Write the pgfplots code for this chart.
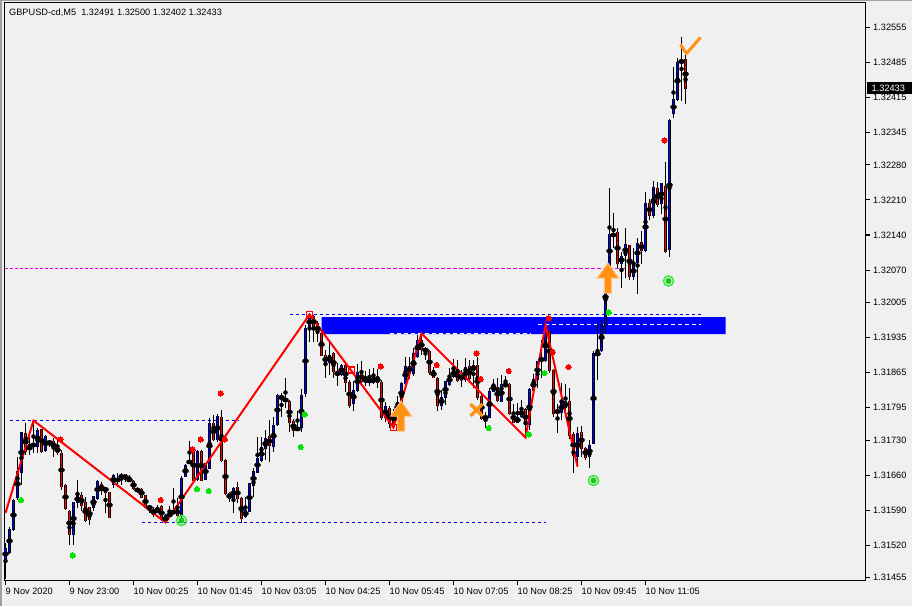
\documentclass[border=0pt]{standalone}
\usepackage{fontspec}
\setmainfont{Liberation Sans}
\usepackage{pgfplots}
\usepackage{pgfplotstable}
\pgfplotsset{compat=1.18}
\definecolor{bg}{RGB}{240,240,240}
\definecolor{bull}{RGB}{0,0,255}
\definecolor{bear}{RGB}{255,0,0}
\definecolor{orng}{RGB}{255,145,20}
\definecolor{orngl}{RGB}{255,190,110}
\definecolor{fgreen}{RGB}{0,230,0}
\definecolor{ringc}{RGB}{60,235,60}
\definecolor{discc}{RGB}{25,200,25}
\definecolor{winb}{RGB}{160,160,160}
\definecolor{magd}{RGB}{230,0,230}
\newcommand{\mtfont}{\fontsize{9.2}{10}\selectfont}

\pgfdeclareplotmark{uparr}{%
 \pgfpathmoveto{\pgfpoint{-3.5pt}{-15pt}}%
 \pgfpathlineto{\pgfpoint{3.5pt}{-15pt}}%
 \pgfpathlineto{\pgfpoint{3.5pt}{0pt}}%
 \pgfpathlineto{\pgfpoint{10.5pt}{0pt}}%
 \pgfpathlineto{\pgfpoint{0pt}{15pt}}%
 \pgfpathlineto{\pgfpoint{-10.5pt}{0pt}}%
 \pgfpathlineto{\pgfpoint{-3.5pt}{0pt}}%
 \pgfpathclose
 \pgfusepathqfillstroke}
\pgfdeclareplotmark{oX}{%
 \pgfpathmoveto{\pgfpoint{-6pt}{-6pt}}\pgfpathlineto{\pgfpoint{6pt}{6pt}}%
 \pgfpathmoveto{\pgfpoint{-6pt}{6pt}}\pgfpathlineto{\pgfpoint{6pt}{-6pt}}%
 \pgfusepathqstroke}
\pgfdeclareplotmark{ocheck}{%
 \pgfpathmoveto{\pgfpoint{-9pt}{4pt}}\pgfpathlineto{\pgfpoint{-3pt}{-5pt}}\pgfpathlineto{\pgfpoint{11pt}{11pt}}%
 \pgfusepathqstroke}
\pgfdeclareplotmark{gring}{%
 \pgfsetlinewidth{1.6pt}\pgfsetstrokecolor{ringc}%
 \pgfpathcircle{\pgfpointorigin}{5pt}\pgfusepathqstroke
 \pgfsetfillcolor{discc}%
 \pgfpathcircle{\pgfpointorigin}{3pt}\pgfusepathqfill}

\pgfplotstableread{
i o h l c
0 1.31491 1.31525 1.31451 1.31515
1 1.31505 1.31557 1.31503 1.31551
2 1.31551 1.31613 1.31549 1.31610
3 1.31617 1.31697 1.31610 1.31669
4 1.31665 1.31747 1.31641 1.31745
5 1.31745 1.31766 1.31701 1.31709
6 1.31719 1.31737 1.31701 1.31711
7 1.31717 1.31769 1.31705 1.31723
8 1.31719 1.31755 1.31705 1.31751
9 1.31753 1.31753 1.31705 1.31707
10 1.31709 1.31741 1.31705 1.31739
11 1.31723 1.31731 1.31717 1.31727
12 1.31727 1.31735 1.31697 1.31713
13 1.31715 1.31733 1.31701 1.31705
14 1.31703 1.31711 1.31631 1.31637
15 1.31641 1.31643 1.31592 1.31594
16 1.31588 1.31590 1.31521 1.31541
17 1.31541 1.31606 1.31521 1.31606
18 1.31606 1.31651 1.31596 1.31619
19 1.31619 1.31627 1.31590 1.31600
20 1.31606 1.31617 1.31567 1.31571
21 1.31596 1.31598 1.31561 1.31571
22 1.31596 1.31617 1.31588 1.31617
23 1.31615 1.31651 1.31610 1.31649
24 1.31641 1.31647 1.31621 1.31629
25 1.31637 1.31637 1.31586 1.31627
26 1.31625 1.31625 1.31574 1.31576
27 1.31643 1.31663 1.31635 1.31661
28 1.31647 1.31665 1.31637 1.31653
29 1.31657 1.31665 1.31641 1.31659
30 1.31661 1.31663 1.31647 1.31651
31 1.31653 1.31661 1.31645 1.31647
32 1.31649 1.31651 1.31631 1.31635
33 1.31631 1.31637 1.31625 1.31629
34 1.31633 1.31635 1.31617 1.31617
35 1.31619 1.31621 1.31594 1.31596
36 1.31592 1.31600 1.31586 1.31598
37 1.31592 1.31598 1.31576 1.31582
38 1.31586 1.31600 1.31584 1.31596
39 1.31598 1.31600 1.31569 1.31571
40 1.31565 1.31582 1.31565 1.31580
41 1.31582 1.31600 1.31576 1.31580
42 1.31582 1.31635 1.31580 1.31590
43 1.31594 1.31615 1.31576 1.31578
44 1.31580 1.31659 1.31576 1.31655
45 1.31657 1.31683 1.31657 1.31681
46 1.31683 1.31729 1.31681 1.31691
47 1.31711 1.31715 1.31647 1.31651
48 1.31651 1.31711 1.31649 1.31707
49 1.31709 1.31711 1.31649 1.31651
50 1.31651 1.31685 1.31649 1.31683
51 1.31675 1.31774 1.31673 1.31764
52 1.31764 1.31780 1.31729 1.31731
53 1.31731 1.31782 1.31727 1.31778
54 1.31776 1.31792 1.31687 1.31689
55 1.31691 1.31693 1.31621 1.31625
56 1.31625 1.31627 1.31606 1.31613
57 1.31615 1.31637 1.31586 1.31635
58 1.31635 1.31647 1.31604 1.31613
59 1.31615 1.31617 1.31565 1.31574
60 1.31576 1.31617 1.31574 1.31590
61 1.31588 1.31645 1.31586 1.31643
62 1.31639 1.31675 1.31617 1.31667
63 1.31667 1.31737 1.31665 1.31695
64 1.31689 1.31737 1.31687 1.31715
65 1.31713 1.31751 1.31691 1.31735
66 1.31737 1.31770 1.31687 1.31719
67 1.31717 1.31776 1.31707 1.31761
68 1.31761 1.31824 1.31759 1.31820
69 1.31820 1.31824 1.31776 1.31812
70 1.31814 1.31856 1.31796 1.31806
71 1.31808 1.31810 1.31747 1.31766
72 1.31768 1.31772 1.31737 1.31751
73 1.31753 1.31788 1.31751 1.31754
74 1.31755 1.31832 1.31747 1.31820
75 1.31822 1.31960 1.31816 1.31954
76 1.31952 1.31981 1.31927 1.31980
77 1.31978 1.31980 1.31927 1.31958
78 1.31964 1.31968 1.31927 1.31943
79 1.31945 1.31949 1.31897 1.31899
80 1.31899 1.31911 1.31854 1.31884
81 1.31886 1.31931 1.31860 1.31901
82 1.31903 1.31907 1.31856 1.31868
83 1.31868 1.31886 1.31840 1.31860
84 1.31860 1.31882 1.31858 1.31880
85 1.31880 1.31884 1.31826 1.31846
86 1.31846 1.31852 1.31794 1.31800
87 1.31804 1.31850 1.31790 1.31830
88 1.31830 1.31884 1.31826 1.31866
89 1.31866 1.31890 1.31844 1.31846
90 1.31846 1.31870 1.31840 1.31854
91 1.31846 1.31874 1.31840 1.31852
92 1.31846 1.31876 1.31844 1.31854
93 1.31854 1.31874 1.31836 1.31846
94 1.31846 1.31850 1.31770 1.31774
95 1.31774 1.31806 1.31766 1.31798
96 1.31794 1.31800 1.31755 1.31764
97 1.31784 1.31794 1.31755 1.31764
98 1.31786 1.31820 1.31784 1.31806
99 1.31806 1.31846 1.31790 1.31844
100 1.31844 1.31897 1.31836 1.31878
101 1.31878 1.31897 1.31854 1.31864
102 1.31864 1.31915 1.31860 1.31905
103 1.31899 1.31941 1.31894 1.31931
104 1.31931 1.31943 1.31901 1.31911
105 1.31909 1.31917 1.31890 1.31913
106 1.31907 1.31911 1.31860 1.31866
107 1.31870 1.31876 1.31854 1.31856
108 1.31854 1.31856 1.31790 1.31800
109 1.31800 1.31830 1.31790 1.31816
110 1.31816 1.31850 1.31800 1.31848
111 1.31842 1.31876 1.31840 1.31860
112 1.31858 1.31894 1.31854 1.31870
113 1.31870 1.31890 1.31846 1.31850
114 1.31860 1.31870 1.31836 1.31852
115 1.31852 1.31894 1.31846 1.31876
116 1.31878 1.31890 1.31850 1.31852
117 1.31870 1.31890 1.31834 1.31880
118 1.31880 1.31897 1.31810 1.31816
119 1.31818 1.31826 1.31770 1.31774
120 1.31776 1.31786 1.31755 1.31774
121 1.31776 1.31834 1.31774 1.31828
122 1.31828 1.31852 1.31826 1.31842
123 1.31836 1.31854 1.31806 1.31810
124 1.31806 1.31860 1.31806 1.31842
125 1.31840 1.31860 1.31836 1.31842
126 1.31842 1.31844 1.31780 1.31784
127 1.31784 1.31804 1.31764 1.31766
128 1.31766 1.31806 1.31764 1.31776
129 1.31778 1.31812 1.31774 1.31792
130 1.31792 1.31796 1.31735 1.31762
131 1.31762 1.31834 1.31751 1.31832
132 1.31830 1.31864 1.31828 1.31852
133 1.31852 1.31890 1.31836 1.31888
134 1.31890 1.31931 1.31854 1.31894
135 1.31890 1.31960 1.31886 1.31947
136 1.31947 1.31949 1.31866 1.31870
137 1.31870 1.31872 1.31776 1.31784
138 1.31790 1.31804 1.31745 1.31786
139 1.31786 1.31846 1.31770 1.31806
140 1.31796 1.31844 1.31784 1.31808
141 1.31808 1.31834 1.31731 1.31739
142 1.31741 1.31747 1.31665 1.31699
143 1.31699 1.31757 1.31677 1.31745
144 1.31747 1.31759 1.31697 1.31715
145 1.31715 1.31717 1.31691 1.31697
146 1.31697 1.31731 1.31675 1.31719
147 1.31723 1.31909 1.31721 1.31905
148 1.31905 1.31966 1.31850 1.31901
149 1.31911 1.31970 1.31907 1.31962
150 1.31960 1.32080 1.31945 1.32074
151 1.32076 1.32234 1.32076 1.32141
152 1.32143 1.32186 1.32116 1.32138
153 1.32145 1.32155 1.32074 1.32084
154 1.32084 1.32106 1.32034 1.32100
155 1.32100 1.32155 1.32056 1.32122
156 1.32120 1.32120 1.32050 1.32058
157 1.32058 1.32116 1.32052 1.32080
158 1.32086 1.32136 1.32024 1.32124
159 1.32126 1.32149 1.32084 1.32110
160 1.32110 1.32228 1.32106 1.32204
161 1.32204 1.32214 1.32170 1.32180
162 1.32180 1.32248 1.32175 1.32236
163 1.32234 1.32246 1.32196 1.32202
164 1.32202 1.32244 1.32182 1.32242
165 1.32238 1.32288 1.32104 1.32106
166 1.32112 1.32373 1.32096 1.32371
167 1.32383 1.32476 1.32375 1.32411
168 1.32411 1.32494 1.32409 1.32486
169 1.32486 1.32537 1.32408 1.32490
170 1.32491 1.32500 1.32402 1.32433
}\candles

\begin{document}
\begin{tikzpicture}[x=1pt,y=1pt]
\fill[bg] (0,0) rectangle (912,606);
\useasboundingbox (0,0) rectangle (912,606);
\fill[winb] (0,0) rectangle (2,606);
\fill[winb] (0,605) rectangle (912,606);
\begin{axis}[
 at={(4.5pt,25.5pt)}, anchor=south west,
 scale only axis, width=861pt, height=578pt,
 xmin=-0.25, xmax=215, ymin=1.31449, ymax=1.32605,
 axis line style={black, line width=1pt},
 axis background/.style={fill=bg},
 xtick={0,16,32,48,64,80,96,112,128,144,160},
 xticklabels={9 Nov 2020,9 Nov 23:00,10 Nov 00:25,10 Nov 01:45,10 Nov 03:05,10 Nov 04:25,10 Nov 05:45,10 Nov 07:05,10 Nov 08:25,10 Nov 09:45,10 Nov 11:05},
 ytick={1.31455,1.31520,1.31590,1.31660,1.31730,1.31795,1.31865,1.31935,1.32005,1.32070,1.32140,1.32210,1.32280,1.32345,1.32415,1.32485,1.32555},
 yticklabels={1.31455,1.31520,1.31590,1.31660,1.31730,1.31795,1.31865,1.31935,1.32005,1.32070,1.32140,1.32210,1.32280,1.32345,1.32415,1.32485,1.32555},
 xtick pos=bottom, ytick pos=right, yticklabel pos=right,
 tick align=outside, major tick length=4pt,
 tick style={black, line width=1pt},
 ticklabel style={font=\mtfont},
 xticklabel style={anchor=north west, inner sep=0pt, yshift=-3pt},
 yticklabel style={anchor=west, inner sep=0pt, xshift=3.5pt},
 scaled y ticks=false,
]
% zone rectangle
\addplot[color=bull, fill=bull, draw=none, forget plot] coordinates {(79,1.31942) (180,1.31942) (180,1.31976) (79,1.31976) (79,1.31942)};
% horizontal levels
\addplot[color=magd, line width=1pt, dash pattern=on 3pt off 2pt, forget plot] coordinates {(-0.25,1.32073) (77.4,1.32073)};
\addplot[color=magd, line width=1pt, dash pattern=on 4pt off 2pt, forget plot] coordinates {(77.4,1.32073) (155,1.32073)};
\addplot[color=bull, line width=1pt, dash pattern=on 3pt off 3pt, forget plot] coordinates {(1,1.31769) (58.25,1.31769)};
\addplot[color=bull, line width=1pt, dash pattern=on 3pt off 3pt, forget plot] coordinates {(34.2,1.31565) (135,1.31565)};
\addplot[color=bull, line width=1pt, dash pattern=on 3pt off 3pt, forget plot] coordinates {(71,1.31981) (173.75,1.31981)};
\addplot[color=white, line width=1pt, dash pattern=on 4pt off 3pt, forget plot] coordinates {(133,1.31961) (173.75,1.31961)};
\addplot[color=white, line width=1pt, dash pattern=on 4pt off 3pt, forget plot] coordinates {(96,1.31943) (131.25,1.31943)};
% wicks
\addplot[color=black, only marks, mark=none, forget plot, error bars/.cd, y dir=both, y explicit, error mark=none,
  error bar style={color=black, line width=1pt}]
  table[x=i, y expr=(\thisrow{h}+\thisrow{l})/2, y error expr=(\thisrow{h}-\thisrow{l})/2] {\candles};
% bull bodies (bear rows sent far above the axis, clipped)
\addplot[color=bull, only marks, mark=none, forget plot, error bars/.cd, y dir=both, y explicit, error mark=none,
  error bar style={color=bull, line width=3pt}]
  table[x=i, y expr={ifthenelse(\thisrow{c}-\thisrow{o}>=0,(\thisrow{o}+\thisrow{c})/2,1.4)}, y error expr=abs(\thisrow{c}-\thisrow{o})/2+0.00001] {\candles};
% bear bodies
\addplot[color=bear, only marks, mark=none, forget plot, error bars/.cd, y dir=both, y explicit, error mark=none,
  error bar style={color=bear, line width=3pt}]
  table[x=i, y expr={ifthenelse(\thisrow{o}-\thisrow{c}>0,(\thisrow{o}+\thisrow{c})/2,1.4)}, y error expr=abs(\thisrow{c}-\thisrow{o})/2+0.00001] {\candles};
% black body outline: left and right edges
\addplot[color=black, only marks, mark=none, forget plot, error bars/.cd, y dir=both, y explicit, error mark=none,
  error bar style={color=black, line width=1pt}]
  table[x expr=\thisrow{i}-0.25, y expr=(\thisrow{o}+\thisrow{c})/2, y error expr=abs(\thisrow{c}-\thisrow{o})/2+0.00001] {\candles};
\addplot[color=black, only marks, mark=none, forget plot, error bars/.cd, y dir=both, y explicit, error mark=none,
  error bar style={color=black, line width=1pt}]
  table[x expr=\thisrow{i}+0.25, y expr=(\thisrow{o}+\thisrow{c})/2, y error expr=abs(\thisrow{c}-\thisrow{o})/2+0.00001] {\candles};
% zigzag
\addplot[color=bear, line width=2pt, forget plot] coordinates {(0,1.31584) (7,1.31769) (40,1.31565) (76,1.31981) (97,1.31755) (104,1.31943) (130,1.31735) (135,1.31960) (143,1.31677)};
% zigzag squares
\addplot[only marks, mark=square, mark size=2.8pt, mark options={draw=bear, fill=none, line width=1.5pt}, forget plot] coordinates {(76,1.31981) (86.5,1.31870) (97,1.31755)};
% fractal dots
\addplot[only marks, mark=*, mark size=2.6pt, mark options={draw=bear, fill=bear, line width=0pt}, forget plot] coordinates {(13.75,1.31731) (38.8,1.31610) (46.8,1.31711) (48.8,1.31731) (53.8,1.31823) (54.8,1.31731) (93.8,1.31877) (107.8,1.31880) (117.75,1.31903) (118.8,1.31852) (125.8,1.31868) (135.8,1.31973) (136.8,1.31906) (140.75,1.31876) (164.75,1.32329)};
\addplot[only marks, mark=*, mark size=2.6pt, mark options={draw=fgreen, fill=fgreen, line width=0pt}, forget plot] coordinates {(3.9,1.31610) (16.8,1.31499) (47.9,1.31632) (50.8,1.31628) (73.8,1.31716) (74.8,1.31781) (120.8,1.31754) (130.8,1.31741) (134.75,1.31864) (150.8,1.31985)};
% signal rings
\addplot[only marks, mark=gring, forget plot] coordinates {(44,1.31569) (147,1.31649) (165.75,1.32048)};
% arrows and signs
\addplot[only marks, mark=uparr, mark options={fill=orng, draw=orngl, line width=1pt}, forget plot] coordinates {(98.9,1.31778) (150.6,1.32054)};
\addplot[only marks, mark=oX, mark options={draw=orng, line width=3.5pt}, forget plot] coordinates {(117.75,1.31790)};
\addplot[only marks, mark=ocheck, mark options={draw=orng, line width=3pt, line join=round}, forget plot] coordinates {(171,1.32513)};
\coordinate (cp) at (axis cs:215,1.32433);
\end{axis}
\node[fill=black, text=white, anchor=west, inner xsep=5pt, inner ysep=0pt, minimum height=12pt, minimum width=48pt, align=left, text width=38pt, font=\mtfont] at ([xshift=1pt]cp) {1.32433};
\node[anchor=base west, inner sep=0pt, font=\mtfont] at (9,590.5) {GBPUSD-cd,M5\ \ 1.32491 1.32500 1.32402 1.32433};
\end{tikzpicture}
\end{document}
